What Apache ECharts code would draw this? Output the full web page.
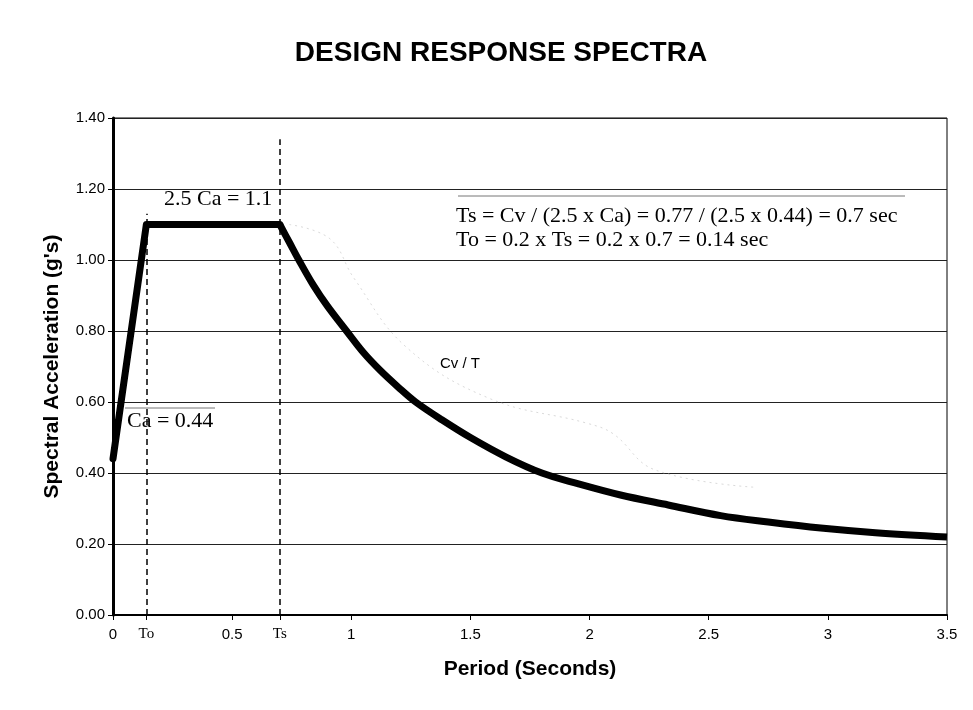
<!DOCTYPE html>
<html>
<head>
<meta charset="utf-8">
<script src="https://cdn.jsdelivr.net/npm/echarts@6/dist/echarts.min.js"></script>
<style>
html,body{margin:0;padding:0;background:#fff;}
#chart{width:973px;height:710px;}
</style>
</head>
<body>
<div id="chart"></div>
<script>
// ---- data ----
// rising ramp and plateau
const riseT  = [0, 0.14, 0.70];
const riseSa = [0.44, 1.10, 1.10];
// descending Cv/T branch
const decayT  = [0.70, 0.74, 0.78, 0.84, 0.90, 0.98, 1.05, 1.12, 1.20, 1.27, 1.38, 1.50, 1.65, 1.80, 1.95, 2.13, 2.33, 2.55, 2.75, 2.97, 3.20, 3.50];
const decaySa = [1.10, 1.05, 1.00, 0.93, 0.87, 0.80, 0.74, 0.69, 0.64, 0.60, 0.55, 0.50, 0.445, 0.40, 0.37, 0.338, 0.31, 0.28, 0.262, 0.245, 0.232, 0.22];
// faint ghost trace visible in the scan
const ghostT  = [0.74, 0.91, 1.01, 1.23, 1.58, 1.99, 2.10, 2.27, 2.69];
const ghostSa = [1.10, 1.06, 0.95, 0.755, 0.61, 0.54, 0.51, 0.41, 0.36];
// special periods
const To = 0.14, Ts = 0.70;
const toLineTop = 1.13, tsLineTop = 1.34;
// tick labels
const xTickValues = [0, 0.14, 0.5, 0.7, 1, 1.5, 2, 2.5, 3, 3.5];
const xTickNames = {'0.14': 'To', '0.7': 'Ts'};
const yMin = 0, yMax = 1.4, yStep = 0.2;
const xMin = 0, xMax = 3.5;
// text
const titleText = 'DESIGN RESPONSE SPECTRA';
const xName = 'Period (Seconds)';
const yName = "Spectral Acceleration (g's)";
const noteCa25 = '2.5 Ca = 1.1';
const noteTs = 'Ts = Cv / (2.5 x Ca) = 0.77 / (2.5 x 0.44) = 0.7 sec';
const noteTo = 'To = 0.2 x Ts = 0.2 x 0.7 = 0.14 sec';
const noteCa = 'Ca = 0.44';
const noteCvT = 'Cv / T';

const SERIF = '"Liberation Serif","Times New Roman",serif';
const SANS = '"Liberation Sans",Arial,sans-serif';

const chart = echarts.init(document.getElementById('chart'));
const riseData = riseT.map((t, i) => [t, riseSa[i]]);
const decayData = decayT.map((t, i) => [t, decaySa[i]]);
const ghostData = ghostT.map((t, i) => [t, ghostSa[i]]);

chart.setOption({
  backgroundColor: '#fff',
  animation: false,
  grid: {left: 113, right: 26, top: 118, bottom: 95, show: true, borderColor: '#000', borderWidth: 1, backgroundColor: 'transparent'},
  xAxis: {
    type: 'value', min: xMin, max: xMax, interval: 0.5,
    name: xName, nameLocation: 'middle', nameGap: 44,
    nameTextStyle: {fontFamily: SANS, fontWeight: 'bold', fontSize: 21, color: '#000'},
    axisLine: {show: true, onZero: false, lineStyle: {color: '#000', width: 2}},
    axisTick: {show: true, length: 5, customValues: xTickValues, lineStyle: {color: '#000'}},
    axisLabel: {
      customValues: xTickValues, margin: 12, color: '#000', fontFamily: SANS, fontSize: 15,
      formatter: v => {
        const k = String(Math.round(v * 100) / 100);
        return xTickNames[k] ? '{s|' + xTickNames[k] + '}' : k;
      },
      rich: {s: {fontFamily: SERIF, fontSize: 15, color: '#000'}}
    },
    splitLine: {show: false}
  },
  yAxis: {
    type: 'value', min: yMin, max: yMax, interval: yStep,
    name: yName, nameLocation: 'middle', nameGap: 50,
    nameTextStyle: {fontFamily: SANS, fontWeight: 'bold', fontSize: 21, color: '#000'},
    axisLine: {show: true, lineStyle: {color: '#000', width: 3}},
    axisTick: {show: true, length: 5, lineStyle: {color: '#000'}},
    axisLabel: {margin: 8, color: '#000', fontFamily: SANS, fontSize: 15, formatter: v => v.toFixed(2)},
    splitLine: {show: true, lineStyle: {color: '#222', width: 1}}
  },
  series: [
    {
      type: 'line', data: ghostData, symbol: 'none', smooth: 0.4, silent: true, z: 1,
      lineStyle: {color: '#dadada', width: 1, type: [2, 4]},
      markLine: {
        silent: true, symbol: 'none', label: {show: false},
        lineStyle: {color: '#000', width: 1.5, type: [6, 4]},
        data: [
          [{coord: [To, 0]}, {coord: [To, toLineTop]}],
          [{coord: [Ts, 0]}, {coord: [Ts, tsLineTop]}]
        ]
      }
    },
    {
      type: 'line', data: riseData, symbol: 'none', z: 5,
      lineStyle: {color: '#000', width: 7, join: 'round', cap: 'round'}
    },
    {
      type: 'line', data: decayData, symbol: 'none', smooth: 0.35, z: 5,
      lineStyle: {color: '#000', width: 7, join: 'round', cap: 'butt'}
    }
  ],
  graphic: [
    {type: 'text', x: 501, y: 53, style: {text: titleText, font: 'bold 28px ' + SANS, fill: '#000', align: 'center', verticalAlign: 'middle'}},
    {type: 'line', shape: {x1: 458, y1: 196, x2: 905, y2: 196}, style: {stroke: '#777', lineWidth: 1}, z: 10},
    {type: 'line', shape: {x1: 125, y1: 408, x2: 215, y2: 408}, style: {stroke: '#777', lineWidth: 1}, z: 10},
    {type: 'text', x: 164, y: 199, style: {text: noteCa25, font: '22px ' + SERIF, fill: '#000', align: 'left', verticalAlign: 'middle'}, z: 10},
    {type: 'text', x: 456, y: 216, style: {text: noteTs, font: '22px ' + SERIF, fill: '#000', align: 'left', verticalAlign: 'middle'}, z: 10},
    {type: 'text', x: 456, y: 240, style: {text: noteTo, font: '22px ' + SERIF, fill: '#000', align: 'left', verticalAlign: 'middle'}, z: 10},
    {type: 'text', x: 127, y: 421, style: {text: noteCa, font: '22px ' + SERIF, fill: '#000', align: 'left', verticalAlign: 'middle'}, z: 10},
    {type: 'text', x: 440, y: 364, style: {text: noteCvT, font: '15px ' + SANS, fill: '#000', align: 'left', verticalAlign: 'middle'}, z: 10}
  ]
});
</script>
</body>
</html>
